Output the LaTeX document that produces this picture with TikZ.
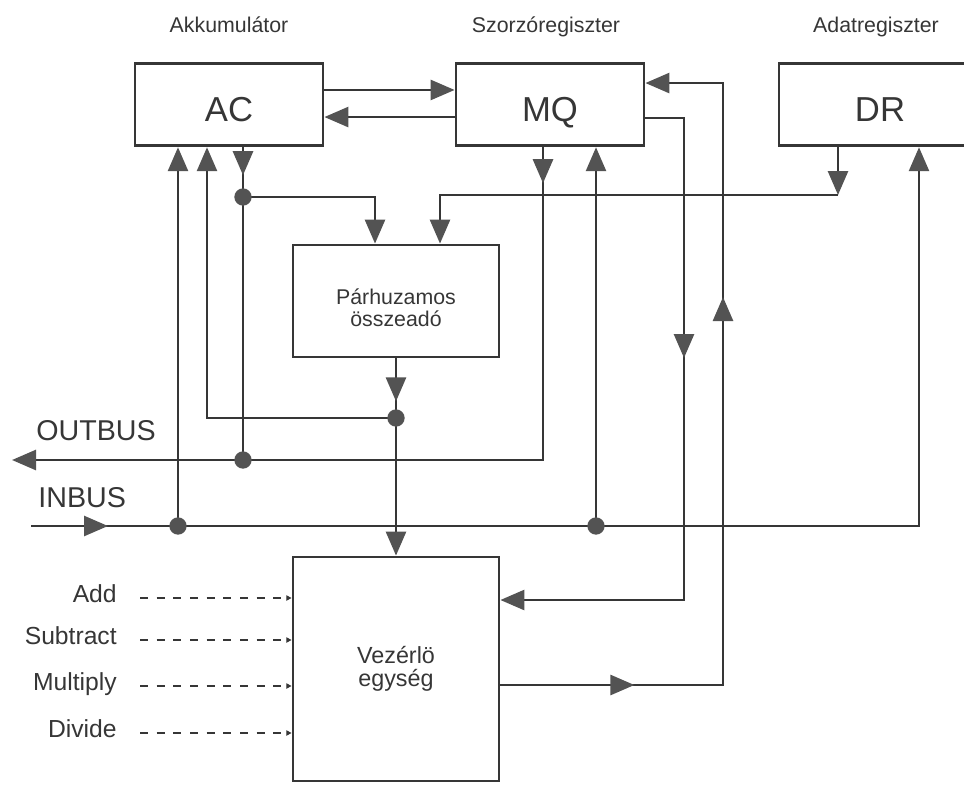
\documentclass[tikz,border=0pt]{standalone}
\usepackage{fontspec}
\setmainfont{Liberation Sans}
\usepackage{tikz}
\usetikzlibrary{arrows.meta, positioning}
\definecolor{ink}{HTML}{363636}
\definecolor{tipgray}{HTML}{535353}

\begin{document}
\begin{tikzpicture}[
  x=0.75pt, y=-0.75pt, color=ink, line width=2pt,
  reg/.style={draw, line width=2.1pt, minimum width=141pt, minimum height=62pt, font=\fontsize{26}{30}\selectfont, text height=26pt, text depth=0pt},
  unit/.style={draw, line width=2.1pt, minimum width=154.5pt, align=center},
  title/.style={inner sep=0pt, font=\fontsize{16}{18}\selectfont, text height=12pt, text depth=4pt},
  busname/.style={inner sep=0pt, anchor=base west, font=\fontsize{21.5}{24}\selectfont},
  oplabel/.style={inner sep=0pt, anchor=east, font=\fontsize{18.5}{21}\selectfont, text height=13.3pt, text depth=6.5pt},
  arr/.style={-{Triangle[length=18pt, width=15pt, color=tipgray, fill=tipgray]}},
  dasharr/.style={-{Triangle[length=4pt, width=4pt]}, line width=1.2pt, dash pattern=on 6pt off 6.5pt},
  dot/.style={circle, fill=tipgray, inner sep=0pt, minimum size=13pt}
]
\useasboundingbox (0,0) rectangle (964,786);

\node[reg] (ac) at (229,104.5) {AC};
\node[reg] (mq) at (550,104.5) {MQ};
\node[reg, minimum width=151.5pt] (dr) at (880,104.5) {DR};
\node[title, above=17pt of ac] (acname) {Akkumulátor};
\node[title, above=17pt of mq, xshift=-3pt] (mqname) {Szorzóregiszter};
\node[title, above=17pt of dr, xshift=-3pt] (drname) {Adatregiszter};
\node[unit, minimum height=84pt, font=\fontsize{16}{16.5}\selectfont] (adder) at (396,301) {\rule{0pt}{22.5pt}Párhuzamos\\összeadó};
\node[unit, minimum height=168pt, font=\fontsize{17.5}{17}\selectfont] (ctrl) at (396,669) {Vezérlö\\egység};
\node[busname] (outname) at (35,440) {OUTBUS};
\node[busname] (inname) at (37,507) {INBUS};

\coordinate (j1) at (243,197);
\coordinate (j2) at (243,460);
\coordinate (j3) at (396,418);
\coordinate (j4) at (178,526);
\coordinate (j5) at (596,526);
\coordinate (acret) at (207,418);
\coordinate (outl) at (12,460);
\coordinate (outr) at (543,460);
\coordinate (inl) at (31,526);
\coordinate (inr) at (919,526);
\coordinate (drbend) at (838,195);
\coordinate (mqbend) at (684,600);
\coordinate (mqtip) at (684,358);
\coordinate (fbbend) at (723,685);
\coordinate (fbtip) at (723,297);

\draw[arr] ([yshift=10.9pt]ac.east) -- ([yshift=10.9pt]mq.west);
\draw[arr] ([yshift=-9.4pt]mq.west) -- ([yshift=-9.4pt]ac.east);

\draw (ac.south -| j1) -- (j2);
\draw[arr] (ac.south -| j1) -- ++(0,28);
\draw[arr] (j1) -| ([xshift=-15.75pt]adder.north);
\draw[arr] (dr.south -| drbend) -- (drbend);
\draw[arr] (drbend) -| ([xshift=33pt]adder.north);

\draw[arr] (adder.south) -- (ctrl.north);
\draw[arr] (adder.south) -- ++(0,43);
\draw[arr] (j3) -- (acret) -- (acret |- ac.south);

\draw[arr] (mq.south -| outr) -- (outr) -- (outl);
\draw[arr] (mq.south -| outr) -- ++(0,36);
\draw[arr] (inl) -- (inr) -- (inr |- dr.south);
\draw[arr] (inl) -- ++(77,0);
\draw[arr] (j4) -- (j4 |- ac.south);
\draw[arr] (j5) -- (j5 |- mq.south);

\draw[arr] ([yshift=-10.1pt]mq.east) -| (mqbend) -- (mqbend -| ctrl.east);
\draw[arr] ([yshift=-10.1pt]mq.east) -| (mqtip);
\draw[arr] (fbbend -| ctrl.east) -- (fbbend) |- ([yshift=16.1pt]mq.east);
\draw[arr] (fbbend -| ctrl.east) -- ++(134,0);
\draw[arr] (fbbend) -- (fbtip);

\foreach \op/\yy in {Add/598, Subtract/640, Multiply/686, Divide/733} {
  \node[oplabel] (op-\op) at (118,\yy) {\op};
  \draw[dasharr] ([xshift=16.5pt]op-\op.east) -- (op-\op.east -| ctrl.west);
}

\foreach \j in {j1, j2, j3, j4, j5}
  \node[dot] (d-\j) at (\j) {};
\end{tikzpicture}
\end{document}
